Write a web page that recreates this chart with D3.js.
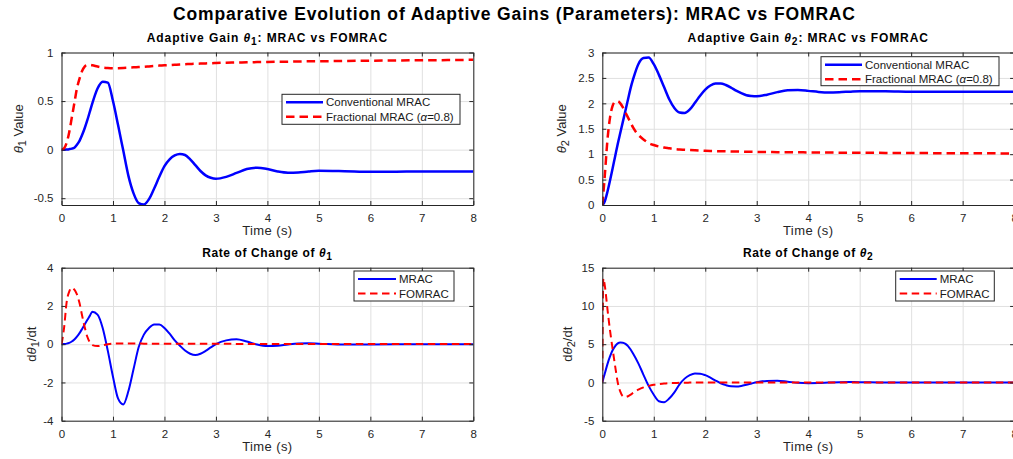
<!DOCTYPE html>
<html>
<head>
<meta charset="utf-8">
<script src="https://cdn.jsdelivr.net/npm/d3@7"></script>
<style>
  body { margin: 0; background: #fff; }
  svg { display: block; font-family: "Liberation Sans", Arial, sans-serif; }
</style>
</head>
<body>
<div id="container"></div>
<script>
// time samples (s), shared by every series
const time = [0, 0.02, 0.05, 0.1, 0.15, 0.2, 0.25, 0.3, 0.35, 0.4, 0.45, 0.5, 0.55, 0.6,
    0.7, 0.8, 0.9, 1.0, 1.1, 1.2, 1.3, 1.4, 1.5, 1.6, 1.7, 1.8, 1.9, 2.0,
    2.1, 2.2, 2.3, 2.4, 2.5, 2.6, 2.7, 2.8, 2.9, 3.0,
    3.2, 3.4, 3.6, 3.8, 4.0, 4.2, 4.4, 4.6, 4.8, 5.0,
    5.5, 6, 6.5, 7, 7.5, 8];

// theta1
const mracTheta1 = [0, 0, 0, 0.002, 0.005, 0.01, 0.02, 0.05, 0.09, 0.15, 0.22, 0.30, 0.39, 0.48,
    0.63, 0.70, 0.69, 0.50, 0.25, -0.01, -0.27, -0.45, -0.55, -0.565, -0.51, -0.40, -0.28, -0.17,
    -0.10, -0.06, -0.045, -0.055, -0.10, -0.16, -0.22, -0.265, -0.29, -0.30,
    -0.28, -0.24, -0.20, -0.186, -0.20, -0.225, -0.238, -0.235, -0.225, -0.218,
    -0.222, -0.228, -0.227, -0.225, -0.225, -0.225];
const fomracTheta1 = [0, 0.003, 0.015, 0.07, 0.18, 0.33, 0.48, 0.63, 0.73, 0.81, 0.855, 0.87, 0.872, 0.868,
    0.855, 0.845, 0.84, 0.838, 0.839, 0.841, 0.844, 0.847, 0.85, 0.853, 0.857, 0.861, 0.865, 0.868,
    0.871, 0.874, 0.877, 0.879, 0.882, 0.884, 0.886, 0.888, 0.89, 0.892,
    0.895, 0.897, 0.899, 0.901, 0.903, 0.905, 0.906, 0.908, 0.909, 0.91,
    0.913, 0.915, 0.918, 0.92, 0.922, 0.925];

// theta2
const mracTheta2 = [0, 0.02, 0.08, 0.26, 0.48, 0.72, 0.96, 1.2, 1.42, 1.64, 1.86, 2.08, 2.3, 2.48,
    2.77, 2.89, 2.9, 2.77, 2.56, 2.32, 2.08, 1.91, 1.82, 1.81, 1.88, 2.01, 2.15, 2.27,
    2.35, 2.39, 2.39, 2.36, 2.31, 2.25, 2.2, 2.16, 2.145, 2.14,
    2.17, 2.22, 2.255, 2.26, 2.245, 2.225, 2.215, 2.22, 2.23, 2.24,
    2.24, 2.23, 2.23, 2.23, 2.23, 2.23];
const fomracTheta2 = [0, 0.22, 0.6, 1.28, 1.72, 1.95, 2.03, 2.04, 2.0, 1.92, 1.82, 1.72, 1.62, 1.52,
    1.38, 1.29, 1.22, 1.18, 1.15, 1.13, 1.115, 1.1, 1.09, 1.085, 1.08, 1.075, 1.07, 1.065,
    1.062, 1.06, 1.058, 1.056, 1.054, 1.052, 1.05, 1.048, 1.046, 1.045,
    1.043, 1.04, 1.038, 1.036, 1.035, 1.033, 1.032, 1.03, 1.03, 1.028,
    1.025, 1.022, 1.02, 1.018, 1.016, 1.015];

// d(theta1)/dt
const mracRate1 = [0, 0, 0.01, 0.03, 0.07, 0.14, 0.25, 0.4, 0.58, 0.8, 1.03, 1.26, 1.48, 1.7,
    1.55, 0.85, -0.35, -1.7, -2.85, -3.15, -2.45, -1.3, -0.15, 0.5, 0.85, 1.03, 1.03, 0.85,
    0.55, 0.2, -0.08, -0.33, -0.5, -0.57, -0.5, -0.35, -0.17, 0.0,
    0.2, 0.26, 0.14, -0.02, -0.1, -0.08, -0.01, 0.04, 0.05, 0.03,
    -0.02, -0.01, 0, 0, 0, 0];
const fomracRate1 = [0, 0.3, 0.85, 2.2, 2.75, 2.95, 2.85, 2.6, 2.15, 1.5, 0.9, 0.4, 0.1, -0.05,
    -0.1, -0.06, 0.0, 0.03, 0.04, 0.04, 0.04, 0.035, 0.035, 0.03, 0.03, 0.03, 0.03, 0.03,
    0.03, 0.025, 0.025, 0.025, 0.025, 0.02, 0.02, 0.02, 0.02, 0.02,
    0.02, 0.015, 0.015, 0.015, 0.015, 0.01, 0.01, 0.01, 0.01, 0.01,
    0.01, 0.01, 0.005, 0.005, 0.005, 0.005];

// d(theta2)/dt
const mracRate2 = [0, 0.5, 1.2, 2.4, 3.4, 4.2, 4.75, 5.1, 5.22, 5.2, 5.05, 4.75, 4.3, 3.75,
    2.5, 1.0, -0.45, -1.6, -2.45, -2.58, -2.1, -1.3, -0.25, 0.5, 0.95, 1.17, 1.15, 0.95,
    0.62, 0.25, -0.1, -0.35, -0.5, -0.52, -0.45, -0.3, -0.13, 0.03,
    0.2, 0.22, 0.1, -0.04, -0.1, -0.08, -0.02, 0.03, 0.05, 0.04,
    -0.01, -0.01, 0, 0, 0, 0];
const fomracRate2 = [0, 13.6, 12.6, 9.6, 6.8, 4.4, 2.1, 0.0, -1.2, -1.8, -1.9, -1.8, -1.6, -1.35,
    -0.95, -0.65, -0.45, -0.3, -0.2, -0.15, -0.1, -0.08, -0.05, -0.03, -0.02, -0.01, 0, 0,
    0, 0, 0, 0, 0, 0, 0, 0, 0, 0,
    0, 0, 0, 0, 0, 0, 0, 0, 0, 0,
    0, 0, 0, 0, 0, 0];

// tick labels
const timeTicks = [0, 1, 2, 3, 4, 5, 6, 7, 8];
const theta1Ticks = [-0.5, 0, 0.5, 1];
const theta2Ticks = [0, 0.5, 1, 1.5, 2, 2.5, 3];
const rate1Ticks = [-4, -2, 0, 2, 4];
const rate2Ticks = [-5, 0, 5, 10, 15];

const width = 1013;
const height = 459;
const axisColor = "#262626";
// matlab style numbers: "0.5", "-2", no unicode minus
const fmt = d => String(d);

const svg = d3.select("#container")
    .append("svg")
    .attr("width", width)
    .attr("height", height);

svg.append("rect").attr("width", width).attr("height", height).attr("fill", "#fff");

// parts: [{t, it, sub}] -> tspans, subscripts shifted down
function richText(textSel, parts, subShift){
    parts.forEach(p => {
        const ts = textSel.append("tspan").text(p.t);
        if(p.it) ts.attr("font-style", "italic");
        if(p.sub) ts.attr("dy", subShift).attr("font-size", "85%");
        if(p.after) ts.attr("dy", -subShift);
    });
}

// main title
svg.append("text")
    .attr("x", 514)
    .attr("y", 20)
    .attr("text-anchor", "middle")
    .attr("font-size", 17.5)
    .attr("font-weight", "bold")
    .attr("fill", "#000")
    .attr("textLength", 682)
    .attr("lengthAdjust", "spacing")
    .text("Comparative Evolution of Adaptive Gains (Parameters): MRAC vs FOMRAC");

const panels = [
    {
        left: 61.5, top: 52.5, w: 411.8, h: 152.5,
        yDomain: [-0.57, 1], yTicks: theta1Ticks,
        title: [{t: "Adaptive Gain "}, {t: "θ", it: true}, {t: "1", sub: true}, {t: ": MRAC vs FOMRAC", after: true}],
        ylabel: [{t: "θ", it: true}, {t: "1", sub: true}, {t: " Value", after: true}],
        ylabelX: 18,
        series: [mracTheta1, fomracTheta1], lw: 2.5, dash: "8.5,5",
        legend: {x: 282, y: 94.3, w: 178, h: 30, line: 37,
            labels: [[{t: "Conventional MRAC"}], [{t: "Fractional MRAC ("}, {t: "α", it: true}, {t: "=0.8)"}]]}
    },
    {
        left: 602.3, top: 52.5, w: 411.8, h: 152.5,
        yDomain: [0, 3], yTicks: theta2Ticks,
        title: [{t: "Adaptive Gain "}, {t: "θ", it: true}, {t: "2", sub: true}, {t: ": MRAC vs FOMRAC", after: true}],
        ylabel: [{t: "θ", it: true}, {t: "2", sub: true}, {t: " Value", after: true}],
        ylabelX: 561,
        series: [mracTheta2, fomracTheta2], lw: 2.5, dash: "8.5,5",
        legend: {x: 821, y: 56.7, w: 178, h: 29, line: 37,
            labels: [[{t: "Conventional MRAC"}], [{t: "Fractional MRAC ("}, {t: "α", it: true}, {t: "=0.8)"}]]}
    },
    {
        left: 61.5, top: 267.7, w: 411.8, h: 153,
        yDomain: [-4, 4], yTicks: rate1Ticks,
        title: [{t: "Rate of Change of "}, {t: "θ", it: true}, {t: "1", sub: true}],
        ylabel: [{t: "d"}, {t: "θ", it: true}, {t: "1", sub: true}, {t: "/dt", after: true}],
        ylabelX: 31,
        series: [mracRate1, fomracRate1], lw: 2, dash: "7.5,4.5",
        legend: {x: 354, y: 271, w: 100, h: 30, line: 38,
            labels: [[{t: "MRAC"}], [{t: "FOMRAC"}]]}
    },
    {
        left: 602.3, top: 267.7, w: 411.8, h: 153,
        yDomain: [-5, 15], yTicks: rate2Ticks,
        title: [{t: "Rate of Change of "}, {t: "θ", it: true}, {t: "2", sub: true}],
        ylabel: [{t: "d"}, {t: "θ", it: true}, {t: "2", sub: true}, {t: "/dt", after: true}],
        ylabelX: 567,
        series: [mracRate2, fomracRate2], lw: 2, dash: "7.5,4.5",
        legend: {x: 895.7, y: 271, w: 98.6, h: 30, line: 37,
            labels: [[{t: "MRAC"}], [{t: "FOMRAC"}]]}
    }
];

const colors = ["#0000ff", "#ff0000"];

panels.forEach((p, i) => drawPanel(p, i));

function drawPanel(p, idx){
    const scaleX = d3.scaleLinear().domain([0, 8]).range([0, p.w]);
    const scaleY = d3.scaleLinear().domain(p.yDomain).range([p.h, 0]);
    const dashes = [null, p.dash];

    const g = svg.append("g").attr("transform", `translate(${p.left},${p.top})`);

    g.append("clipPath").attr("id", "clip" + idx)
        .append("rect").attr("width", p.w).attr("height", p.h);

    // grid
    g.append("g")
        .attr("transform", `translate(0,${p.h})`)
        .call(d3.axisBottom(scaleX).tickValues(timeTicks).tickSize(-p.h).tickFormat(""))
        .call(a => a.select(".domain").remove())
        .call(a => a.selectAll("line").attr("stroke", "#e0e0e0"));
    g.append("g")
        .call(d3.axisLeft(scaleY).tickValues(p.yTicks).tickSize(-p.w).tickFormat(""))
        .call(a => a.select(".domain").remove())
        .call(a => a.selectAll("line").attr("stroke", "#e0e0e0"));

    // lines
    const line = d3.line()
        .x((d, i) => scaleX(time[i]))
        .y(d => scaleY(d))
        .curve(d3.curveMonotoneX);

    const lines = g.append("g").attr("clip-path", `url(#clip${idx})`);
    p.series.forEach((s, k) => {
        lines.append("path")
            .datum(s)
            .attr("fill", "none")
            .attr("stroke", colors[k])
            .attr("stroke-width", p.lw)
            .attr("stroke-dasharray", dashes[k])
            .attr("d", line);
    });

    // axes (ticks inward, mirrored on top / right)
    const styleAxis = a => {
        a.select(".domain").attr("stroke", axisColor);
        a.selectAll(".tick line").attr("stroke", axisColor);
        a.selectAll("text").attr("fill", axisColor).attr("font-size", 11.5)
            .attr("font-family", "Liberation Sans, Arial, sans-serif");
    };
    g.append("g")
        .attr("transform", `translate(0,${p.h})`)
        .call(d3.axisBottom(scaleX).tickValues(timeTicks).tickFormat(fmt).tickSize(-4).tickPadding(9).tickSizeOuter(0))
        .call(styleAxis);
    g.append("g")
        .call(d3.axisTop(scaleX).tickValues(timeTicks).tickSize(-4).tickFormat("").tickSizeOuter(0))
        .call(styleAxis);
    g.append("g")
        .call(d3.axisLeft(scaleY).tickValues(p.yTicks).tickFormat(fmt).tickSize(-4).tickPadding(8).tickSizeOuter(0))
        .call(styleAxis);
    g.append("g")
        .attr("transform", `translate(${p.w},0)`)
        .call(d3.axisRight(scaleY).tickValues(p.yTicks).tickSize(-4).tickFormat("").tickSizeOuter(0))
        .call(styleAxis);

    // title
    const title = g.append("text")
        .attr("x", p.w / 2)
        .attr("y", (idx < 2 ? 42 : 257) - p.top)
        .attr("text-anchor", "middle")
        .attr("font-size", 12)
        .attr("font-weight", "bold")
        .attr("letter-spacing", idx < 2 ? 0.9 : 0.6)
        .attr("fill", "#000");
    richText(title, p.title, 3);

    // x label
    g.append("text")
        .attr("x", p.w / 2)
        .attr("y", p.h + 30)
        .attr("text-anchor", "middle")
        .attr("font-size", 13)
        .attr("letter-spacing", 0.4)
        .attr("fill", axisColor)
        .text("Time (s)");

    // y label
    const yl = svg.append("text")
        .attr("transform", `translate(${p.ylabelX},${p.top + p.h / 2}) rotate(-90)`)
        .attr("text-anchor", "middle")
        .attr("dy", "0.35em")
        .attr("font-size", 13)
        .attr("fill", axisColor);
    richText(yl, p.ylabel, 3);

    // legend
    const L = p.legend;
    const lg = svg.append("g").attr("transform", `translate(${L.x},${L.y})`);
    lg.append("rect")
        .attr("width", L.w).attr("height", L.h)
        .attr("fill", "#fff")
        .attr("stroke", axisColor)
        .attr("stroke-width", 1);
    L.labels.forEach((lab, k) => {
        const yy = 8 + k * 14.5;
        lg.append("line")
            .attr("x1", 4).attr("x2", 4 + L.line)
            .attr("y1", yy).attr("y2", yy)
            .attr("stroke", colors[k])
            .attr("stroke-width", p.lw)
            .attr("stroke-dasharray", dashes[k]);
        const t = lg.append("text")
            .attr("x", 7 + L.line)
            .attr("y", yy)
            .attr("dy", "0.35em")
            .attr("font-size", 11.5)
            .attr("fill", "#1a1a1a");
        richText(t, lab, 3);
    });
}
</script>
</body>
</html>
